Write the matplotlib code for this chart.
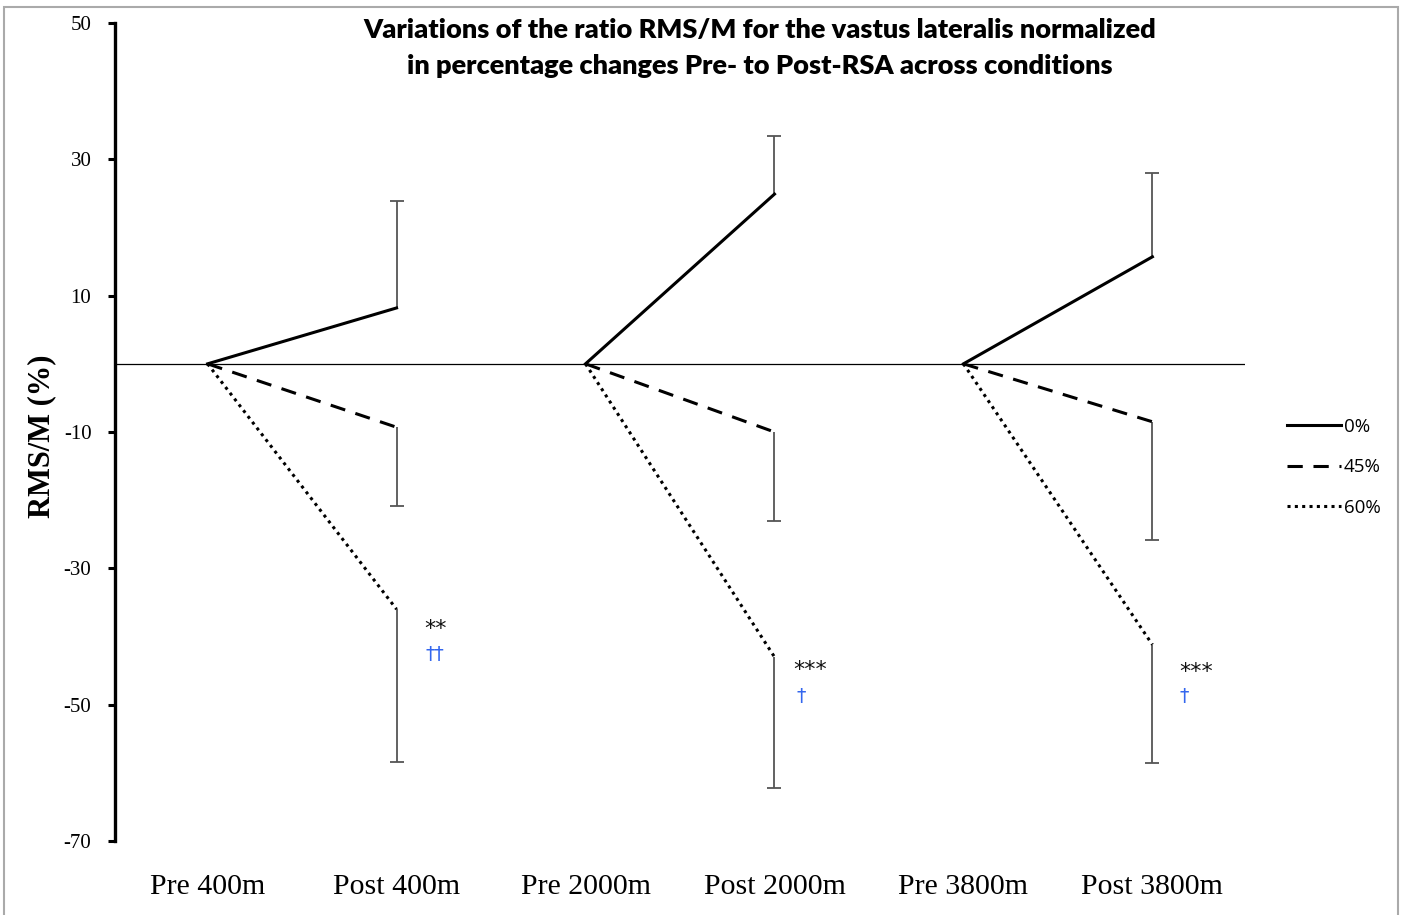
import matplotlib
matplotlib.use("Agg")
import matplotlib.pyplot as plt
from matplotlib.patches import Rectangle

categories = ["Pre 400m", "Post 400m", "Pre 2000m", "Post 2000m", "Pre 3800m", "Post 3800m"]
series_labels = ["0%", "45%", "60%"]
mean_0 = [0, 8.2, 0, 24.9, 0, 15.7]
mean_45 = [0, -9.3, 0, -10.0, 0, -8.5]
mean_60 = [0, -36.0, 0, -43.0, 0, -41.2]
# one-sided error bars at the Post points
err_0_up = [15.7, 8.5, 12.3]
err_45_down = [11.6, 13.1, 17.3]
err_60_down = [22.4, 19.2, 17.4]
yticks = [50, 30, 10, -10, -30, -50, -70]
sig_stars = ["**", "***", "***"]
sig_daggers = ["\u2020\u2020", "\u2020", "\u2020"]

W, H = 1405, 915
fig = plt.figure(figsize=(W / 100, H / 100), dpi=100)
ax = fig.add_axes([115 / W, 1 - 841 / H, (1245 - 115) / W, (841 - 23) / H])

serif = "Liberation Serif"
styles = [dict(linestyle="-"), dict(linestyle=(0, (5, 3.5))), dict(linestyle=(0, (1, 1.4)))]
means = [mean_0, mean_45, mean_60]
handles = []
for m, st, lab in zip(means, styles, series_labels):
    for k in range(3):
        xs = [2 * k, 2 * k + 1]
        ys = [m[2 * k], m[2 * k + 1]]
        h, = ax.plot(xs, ys, color="black", lw=2.2, label=lab, zorder=3, **st)
    handles.append(h)

post_x = [1, 3, 5]
ecol = "#555555"
for m, errs, sign in [(mean_0, err_0_up, 1), (mean_45, err_45_down, -1), (mean_60, err_60_down, -1)]:
    base = [m[i] for i in post_x]
    ends = [b + sign * e for b, e in zip(base, errs)]
    ax.vlines(post_x, base, ends, color=ecol, lw=1.3, zorder=2)
    ax.plot(post_x, ends, linestyle="none", marker="_", markersize=10, markeredgewidth=1.3,
            color=ecol, zorder=2)

ax.axhline(0, color="black", lw=0.9)

star_pos = [(1.205, -38.9), (3.19, -44.9), (5.23, -45.2)]
dag_pos = [(1.205, -42.7), (3.14, -48.8), (5.17, -48.8)]
for s, (x, y) in zip(sig_stars, star_pos):
    ax.text(x, y, s, ha="center", va="center", fontsize=16, family="DejaVu Sans", color="#111111")
for s, (x, y) in zip(sig_daggers, dag_pos):
    ax.text(x, y, s, ha="center", va="center", fontsize=13.5, family="DejaVu Sans", color="#3366ee")

ax.set_xlim(-0.49, 5.49)
ax.set_ylim(-70, 50)
ax.set_yticks(yticks)
ax.set_yticklabels([str(t) for t in yticks], family=serif, fontsize=15)
ax.set_xticks(range(len(categories)))
ax.set_xticklabels(categories, family=serif, fontsize=21.5)
ax.tick_params(axis="x", length=0, pad=24)
ax.tick_params(axis="y", direction="out", length=5, width=2.2, pad=12)
for sp in ["top", "right", "bottom"]:
    ax.spines[sp].set_visible(False)
ax.spines["left"].set_linewidth(2.4)

fig.text(42 / W, 1 - 436 / H, "RMS/M (%)", rotation=90, ha="center", va="center",
         family=serif, fontweight="bold", fontsize=22)

fig.text(760 / W, 1 - 30 / H, "Variations of the ratio RMS/M for the vastus lateralis normalized",
         ha="center", va="center", family="Lato", fontweight="heavy", fontsize=19.5)
fig.text(760 / W, 1 - 66 / H, "in percentage changes Pre- to Post-RSA across conditions",
         ha="center", va="center", family="Lato", fontweight="heavy", fontsize=19.5)

leg = fig.legend(handles=handles, labels=series_labels, loc="upper left",
                 bbox_to_anchor=(1270 / W, 1 - 401 / H), frameon=False,
                 prop={"family": "Open Sans", "size": 13.5}, handlelength=2.9,
                 handletextpad=0.15, labelspacing=1.2)

fig.patches.append(Rectangle((4 / W, -0.05), (1398 - 4) / W, 1.05 - 7 / H, transform=fig.transFigure,
                             fill=False, edgecolor="#aaaaaa", lw=1.5))

fig.savefig("out.png", dpi=100)
